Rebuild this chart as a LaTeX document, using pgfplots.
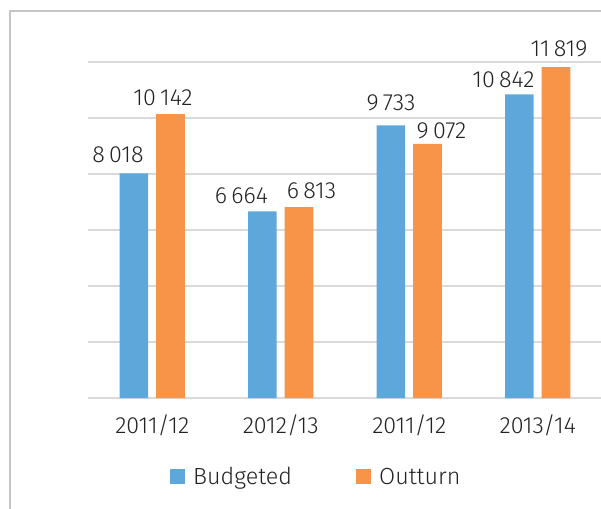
\documentclass[border=0pt]{standalone}
\usepackage{pgfplots}
\pgfplotsset{compat=1.18}
\usepackage{pgfplotstable}
\usepackage{fontspec}
\setmainfont{Fira Sans Light}

\definecolor{budget}{HTML}{5DA7DB}
\definecolor{outturn}{HTML}{F79447}
\definecolor{gridgray}{HTML}{D9D9D9}
\definecolor{framegray}{HTML}{C6C6C6}
\definecolor{inktext}{HTML}{222222}

% x = category index, y = value, dx/dy = label offset (pt) from the bar top
\pgfplotstableread{
x y dx dy
0 8018 -12 7.9
1 6664 -15.75 5.6
2 9733 0 10.9
3 10842 -12 4.5
}\budgeted
\pgfplotstableread{
x y dx dy
0 10142 -5.6 6
1 6813 9.4 6
2 9072 10.5 3.75
3 11819 2.25 7.1
}\outturn

\newcommand{\chartfont}{\fontsize{17.5}{20}\selectfont}

\begin{document}
\begin{tikzpicture}[x=1pt,y=1pt]
\useasboundingbox (0,0) rectangle (450.75,381);
\draw[framegray, line width=1.5pt] (7.5,-2) -- (7.5,372.75) -- (455,372.75);
\begin{axis}[
  at={(66pt,82.5pt)}, anchor=south west,
  scale only axis, width=385.5pt, height=252pt,
  xmin=-0.5, xmax=3.5, ymin=0, ymax=12000, enlargelimits=false,
  scaled y ticks=false,
  ybar=6pt, bar width=21.4pt,
  axis lines*=left,
  x axis line style={gridgray, line width=1.5pt, -},
  y axis line style={draw=none},
  ymajorgrids, grid style={gridgray, line width=1.5pt},
  ytick={0,2000,...,12000}, yticklabels={},
  xtick=data, xticklabels={2011/12,2012/13,2011/12,2013/14},
  major tick length=0pt,
  xticklabel style={anchor=base, inner sep=0pt, yshift=-26.25pt, font=\chartfont, text=inktext},
  nodes near coords={\pgfmathprintnumber[fixed,precision=0,1000 sep={\hspace{0.18em}},assume math mode=true]{\pgfplotspointmeta}},
  visualization depends on={\thisrow{dx} \as \dx},
  visualization depends on={\thisrow{dy} \as \dy},
  every node near coord/.append style={anchor=south, inner sep=0pt, xshift=\dx pt, yshift=\dy pt, font=\chartfont, text=inktext},
  legend columns=2,
  legend style={at={(0.1595,-0.235)}, anchor=west, draw=none, fill=none, inner sep=0pt,
    nodes={inner sep=0pt}, font=\chartfont, text=inktext,
    /tikz/every even column/.append style={column sep=48pt}},
]
\addplot[fill=budget, draw=none,
  legend image code/.code={\fill[budget] (0pt,-5.6pt) rectangle (11.25pt,5.6pt); \path (17.25pt,0pt);}]
  table[x=x, y=y] {\budgeted};
\addlegendentry{Budgeted}
\addplot[fill=outturn, draw=none,
  legend image code/.code={\fill[outturn] (0pt,-5.6pt) rectangle (11.25pt,5.6pt); \path (17.25pt,0pt);}]
  table[x=x, y=y] {\outturn};
\addlegendentry{Outturn}
\end{axis}
\end{tikzpicture}
\end{document}
